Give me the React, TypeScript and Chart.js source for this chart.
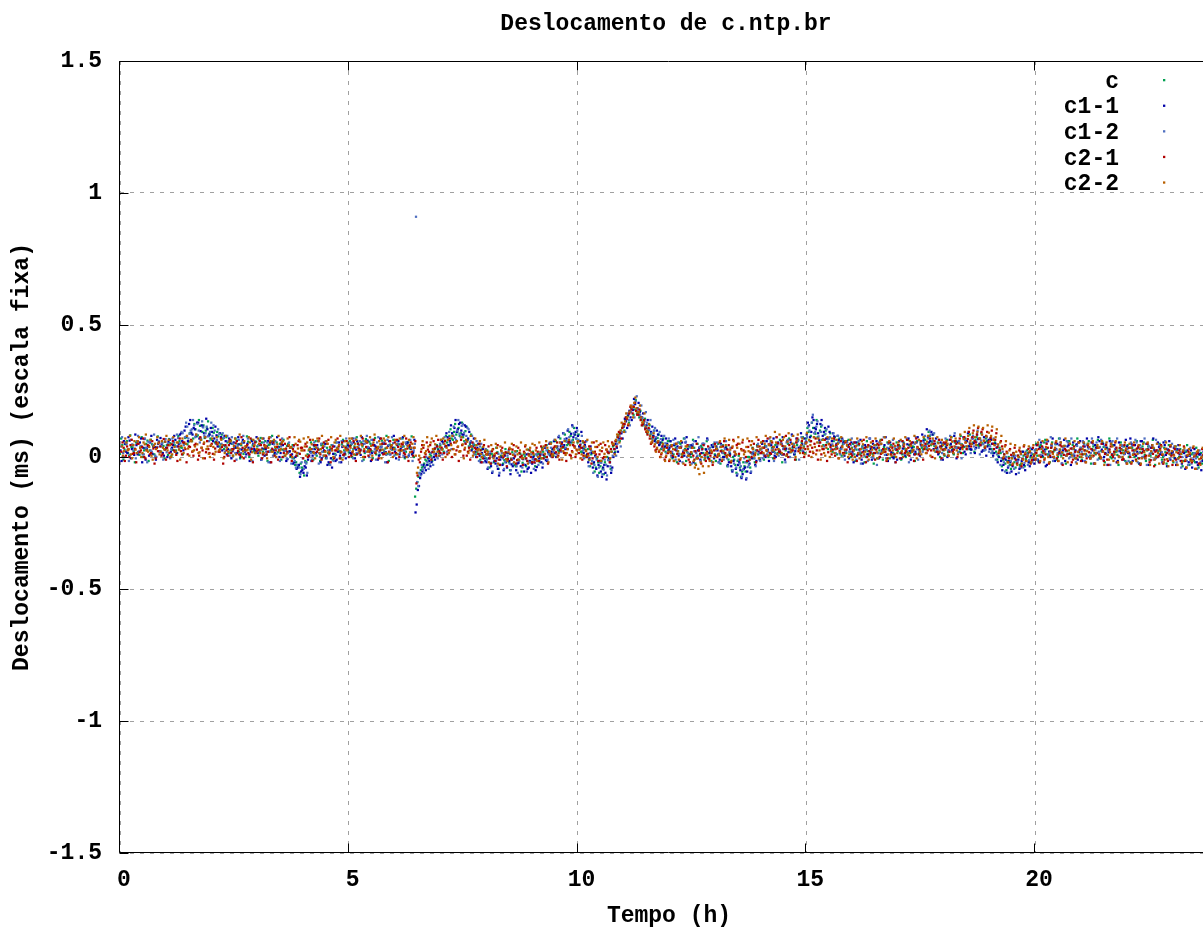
import React, { useEffect, useRef } from "react";
import { Chart, registerables } from "chart.js";

Chart.register(...registerables);

const chartTitle = "Deslocamento de c.ntp.br";
const xAxisTitle = "Tempo (h)";
const yAxisTitle = "Deslocamento (ms) (escala fixa)";
const xTickValues = [0, 5, 10, 15, 20];
const yTickValues = [-1.5, -1, -0.5, 0, 0.5, 1, 1.5];
const seriesLabels = ["c", "c1-1", "c1-2", "c2-1", "c2-2"];
const seriesColors = ["#00a050", "#0000a8", "#4f6fc0", "#b00000", "#b86000"];
// polling: two samples per 0.05 h slot per server (slot start and slot middle), each server with its own phase
const sampleStepHours = 0.05;
const midSlotHours = 0.025;
const seriesPhaseHours = [0, 0.01, 0.02, 0.03, 0.04];

// offsets in microseconds, 20 samples per line = one hour per line (samples at slot start)
const offsetC_us = [
  12, 45, 28, 60, 5, 38, 22, 55, 18, 40, 0, 33, 62, 25, 48, 10, 36, 58, 20, 42,
  30, 8, 52, 27, 44, 15, 60, 35, 50, 75, 58, 90, 70, 105, 82, 118, 95, 72, 110, 88,
  65, 92, 58, 78, 48, 70, 40, 55, 25, 50, 35, 62, 20, 45, 12, 38, 58, 28, 44, 15,
  40, 22, 55, 30, 8, 46, 25, 60, 33, 18, 50, 28, 5, 42, 20, 35, -5, -20, -35, -25,
  -45, -15, 10, 35, 18, 40, 5, 28, 45, 20, -5, 15, 30, -10, 12, 35, 22, 48, 25, 40,
  18, 45, 30, 8, 52, 25, 40, 15, 35, 58, 22, 44, 10, 38, 26, 50, 32, 12, 47, 28,
  35, 12, 48, 25, 40, 20, 55, 30, 15, -150, -95, -62, -40, -25, -15, -5, 5, 20, 10, 30,
  45, 30, 62, 55, 80, 70, 95, 85, 110, 90, 75, 98, 65, 48, 30, 45, 20, 12, 28, 5,
  -5, 10, -25, 5, -15, 18, -30, 0, -12, 15, -20, -8, 8, -35, -10, 12, -22, 2, -15, 10,
  -18, 5, -10, 12, -5, 20, 0, 25, 8, 30, 15, 35, 22, 45, 38, 60, 50, 80, 65, 85,
  55, 40, 20, 30, 5, -10, 10, -25, -40, -20, -35, -45, -20, 0, -10, 20, 45, 60, 85, 100,
  125, 140, 155, 170, 188, 180, 165, 150, 140, 125, 110, 100, 88, 80, 65, 72, 48, 55, 35, 45,
  28, 45, 10, 35, 22, 50, 5, 30, 18, 40, 12, 35, -5, 25, 42, 15, 30, 0, 22, 38,
  10, 32, 5, 25, 15, 38, -10, -20, 0, -30, -15, -40, -55, -35, -20, 0, 15, -5, 25, 10,
  30, 15, 42, 22, 8, 35, 20, 48, 28, 12, 40, 25, 50, 18, 35, 10, 45, 30, 55, 40,
  70, 95, 80, 110, 88, 75, 100, 65, 85, 55, 70, 45, 60, 38, 55, 30, 48, 25, 42, 20,
  35, 10, 28, 45, 15, 32, 0, 22, 40, 12, 30, -5, 25, 18, 38, 8, 28, 45, 15, 30,
  22, 40, 10, 32, 18, 45, 25, 38, 12, 30, 48, 28, 65, 50, 80, 58, 42, 30, 15, 35,
  25, 40, 18, 45, 30, 55, 35, 20, 48, 38, 60, 42, 28, 55, 65, 45, 70, 52, 38, 60,
  45, 30, 50, 20, 5, 15, -10, -25, -15, -30, -5, -20, -12, 0, -25, 5, -8, 15, -2, 10,
  25, 5, 40, 18, 55, 30, 10, 35, 20, 48, 0, 28, 15, 42, 22, 60, 8, 30, 45, 18,
  35, 10, 25, 50, 5, 30, 15, 42, -5, 22, 38, 12, 28, 0, 45, 20, 8, 32, 15, 40,
  20, 0, 35, 12, 28, -5, 18, 40, 8, 25, -10, 15, 32, 5, 22, 45, 0, 18, 28, 10,
  15, -5, 25, 0, 12, -15, 20, 5, -10, 15, -20, 0, 10, -25, 5, -10, 8, -30, -5, -15,
  -10,
];

const offsetC11_us = [
  25, 0, 50, 15, 62, 30, 8, 45, 20, 70, 35, -10, 40, 55, 12, 38, 65, 22, 48, 5,
  35, 58, 20, 45, 65, 40, 85, 60, 100, 78, 125, 92, 110, 80, 130, 98, 115, 75, 105, 85,
  95, 70, 82, 55, 75, 45, 60, 30, 52, 22, 40, 15, 48, 28, 55, 10, 35, 20, 50, 25,
  15, 48, 32, 5, 40, 20, 58, 25, 0, 38, 15, 45, 28, -8, 22, 10, -20, -45, -30, -55,
  -60, -40, -10, 20, 5, 30, 45, 15, -5, 25, 0, -20, -5, 12, -15, 20, 5, 38, 15, 30,
  40, 12, 55, 28, 35, 8, 48, 20, 62, 30, 15, 45, 25, 5, 38, 52, 18, 42, 10, 35,
  20, 45, 10, 38, 25, 50, 5, 32, 18, -210, -125, -80, -55, -40, -30, -15, -20, 0, 12, 25,
  35, 55, 40, 75, 60, 90, 110, 95, 125, 100, 85, 115, 70, 55, 40, 20, 35, 5, 15, -5,
  -20, -5, -35, 0, -25, -45, -10, -30, 5, -40, -15, -28, -5, -50, -22, -35, -8, -30, -45, -15,
  -25, -10, -38, -5, -20, 8, -12, 18, 5, 30, 15, 40, 28, 55, 45, 70, 60, 88, 75, 95,
  80, 60, 35, 45, 10, -5, 15, -20, -45, -30, -55, -40, -60, -35, -20, -40, 15, 35, 70, 90,
  115, 135, 160, 150, 178, 200, 185, 170, 150, 135, 120, 105, 95, 80, 70, 85, 55, 65, 40, 50,
  35, 15, 45, 25, 5, 38, 20, 55, 30, 10, 42, 22, 0, 35, 15, 48, 28, -5, 20, 38,
  5, 25, -10, 18, 0, 30, -20, -35, -15, -45, -30, -50, -65, -40, -55, -25, -5, 10, -15, 20,
  15, 35, 0, 28, 45, 20, 5, 38, 25, 50, 10, 32, 18, 55, 40, 22, 60, 35, 48, 70,
  85, 120, 95, 140, 105, 90, 125, 80, 110, 70, 95, 60, 78, 50, 65, 35, 55, 25, 45, 30,
  20, 40, 5, 28, -10, 22, 38, 10, 30, 50, 15, 35, 0, 25, 45, 8, 32, 18, -5, 28,
  40, 15, 32, 5, 48, 22, 35, 10, 55, 30, 45, 62, 40, 75, 60, 85, 50, 35, 20, 42,
  10, 35, 25, 50, 15, 38, 55, 30, 45, 20, 60, 40, 28, 52, 35, 68, 45, 25, 55, 40,
  30, 50, 15, 35, 0, -15, -30, -10, -40, -20, -35, -5, -25, -45, -15, -30, 0, -20, 5, -10,
  15, -10, 35, 5, 28, -30, 20, 45, 0, 30, 10, 55, 25, -15, 40, 12, 32, 5, 48, 20,
  30, 55, 10, 38, -5, 25, 45, 15, 60, 28, 0, 35, 18, 50, 8, 30, -15, 22, 42, 12,
  40, 15, 50, 25, 5, 35, 60, 20, -5, 30, 12, 45, 25, 0, 38, 18, 55, 8, 28, -10,
  20, -5, 30, 10, -25, 15, 0, -20, 25, -10, 5, -30, 10, -15, -40, 0, -20, 8, -35, -10,
  -25,
];

const offsetC12_us = [
  40, 15, 55, 28, 8, 48, 32, 60, 20, 42, 10, 35, 58, 25, 45, 5, 38, 20, 52, 30,
  18, 45, 30, 55, 40, 72, 52, 90, 75, 115, 88, 105, 120, 85, 100, 70, 112, 90, 78, 95,
  80, 100, 65, 88, 50, 72, 38, 60, 28, 50, 15, 42, 30, 55, 22, 40, 8, 35, 48, 18,
  45, 25, 10, 38, 55, 20, 32, 48, 12, 28, 40, 0, 25, 15, 35, -5, -15, -30, -40, -20,
  -45, -25, 0, 15, 30, 10, 35, 0, 20, 40, -5, 10, 25, -15, 8, 30, 15, 42, 20, 35,
  25, 50, 32, 15, 45, 28, 60, 20, 38, 10, 48, 30, 55, 18, 40, 25, 8, 45, 30, 52,
  28, 50, 15, 40, 22, 45, 10, 35, 25, 910, -110, -70, -48, -35, -20, -25, -5, 10, 0, 20,
  30, 50, 38, 68, 55, 82, 72, 100, 88, 118, 92, 80, 105, 60, 50, 35, 25, 40, 10, 0,
  -10, 8, -22, 0, -15, 12, -30, -5, -18, 5, -25, -10, 10, -35, -15, 0, -28, -8, 12, -20,
  -8, -22, 5, -15, 10, -5, 25, 10, 35, 20, 40, 30, 55, 42, 68, 58, 75, 62, 90, 70,
  65, 48, 25, 38, 0, 15, -15, -30, -10, -40, -22, -48, -30, -12, -35, 5, 30, 50, 78, 95,
  120, 150, 140, 170, 195, 210, 180, 160, 148, 120, 130, 105, 90, 100, 75, 60, 68, 45, 52, 38,
  42, 20, 50, 32, 12, 40, 25, 58, 15, 35, 48, 22, 5, 38, 28, 50, 10, 30, 18, 45,
  25, 8, 38, 15, 30, -5, 20, -15, -25, -40, -10, -35, -48, -20, -38, -10, 10, -5, 25, 15,
  28, 10, 40, 20, 52, 30, 15, 45, 25, 8, 38, 55, 30, 18, 48, 32, 62, 40, 25, 50,
  75, 100, 130, 90, 115, 78, 95, 68, 88, 58, 75, 48, 65, 40, 55, 30, 50, 22, 38, 45,
  12, 30, 45, 18, 35, 5, 28, 42, 20, -5, 32, 15, 48, 22, 8, 35, 25, 40, 10, 28,
  35, 18, 45, 25, 8, 38, 20, 50, 30, 15, 42, 55, 48, 70, 85, 62, 45, 28, 38, 15,
  30, 48, 22, 40, 60, 35, 18, 50, 42, 65, 30, 55, 72, 40, 58, 35, 62, 48, 28, 52,
  40, 22, 45, 10, 25, -5, -20, 0, -35, -15, -28, 5, -18, -38, -8, -22, 10, -12, 15, 0,
  30, 50, 8, 35, 20, 62, 15, 40, -5, 28, 45, 12, 35, 22, 55, 0, 30, 18, 42, 25,
  20, 45, 5, 32, 15, 50, 28, -10, 38, 20, 42, 8, 30, 55, 12, 35, 22, 0, 40, 18,
  30, 8, 42, 20, 55, 15, 35, 0, 28, 48, 12, 38, -8, 25, 45, 18, 5, 32, 20, 40,
  10, 28, -8, 18, 0, 25, -15, 8, -25, 12, -5, 20, -18, 5, -10, 15, -30, 0, -12, -20,
  -5,
];

const offsetC21_us = [
  20, 35, 5, 28, 45, 12, 30, 50, 18, 38, 0, 25, 42, 15, 32, -5, 22, 40, 10, 28,
  35, 15, 48, 25, 8, 40, 22, 55, 30, 10, 38, 20, 45, 28, 5, 35, 50, 18, 30, 42,
  12, 32, 48, 20, 38, 0, 25, 45, 15, 30, 52, 22, 8, 35, 28, 45, 10, 30, 40, 18,
  28, 45, 10, 35, 20, 55, 30, 5, 38, 25, 48, 15, 32, 42, 8, 30, 20, 45, 12, 35,
  25, 40, 5, 30, 18, 45, 28, 10, 35, 22, 50, 15, 32, -5, 25, 40, 20, 8, 35, 28,
  42, 18, 35, 10, 30, 48, 22, 38, 5, 28, 45, 15, 32, 25, 50, 12, 35, 20, 40, 30,
  15, 38, 25, 48, 10, 32, 45, 20, 35, -100, -10, 20, 35, 10, 28, 45, 18, 32, 40, 22,
  35, 15, 42, 25, 50, 30, 10, 38, 22, 45, 28, 5, 35, 40, 18, 30, 12, 25, -5, 20,
  10, -5, 22, 5, 15, -10, 25, 0, 18, -8, 12, 28, 2, -12, 15, 5, 20, -5, 10, 0,
  15, -8, 20, 5, 28, 10, 0, 22, 12, 35, 18, 5, 25, 38, 15, 30, 8, 22, 40, 28,
  15, 35, 5, 25, 12, 30, -5, 20, 38, 10, 22, 0, 28, 15, 30, 45, 60, 75, 90, 110,
  125, 145, 165, 180, 190, 175, 160, 140, 125, 105, 85, 70, 55, 40, 30, 20, 10, 25, 0, 15,
  20, 5, 28, 12, 35, 0, 15, 25, -10, 18, 5, 22, -5, 12, 30, 8, 20, -8, 15, 25,
  30, 10, 22, 40, 15, 28, 5, 35, 20, 45, 12, 30, 25, 0, 38, 18, 32, 8, 25, 40,
  18, 35, 25, 48, 12, 38, 28, 52, 20, 42, 30, 10, 45, 25, 38, 55, 22, 35, 15, 30,
  40, 20, 35, 50, 25, 42, 10, 30, 45, 18, 38, 28, 5, 32, 22, 40, 15, 28, 38, 12,
  25, 40, 10, 30, 18, 35, 0, 22, 38, 15, 28, 45, 12, 30, 20, -5, 25, 35, 10, 28,
  32, 15, 40, 22, 35, 48, 25, 10, 38, 28, 45, 30, 15, 42, 25, 50, 35, 18, 40, 28,
  30, 45, 20, 38, 28, 50, 35, 15, 42, 55, 68, 50, 75, 60, 85, 70, 95, 62, 80, 55,
  72, 50, 65, 38, 25, 40, 10, 20, -5, 8, 15, -10, 5, 20, -8, 10, 0, 18, -12, 5,
  15, 30, 0, 22, 10, 35, 5, 18, 28, -5, 15, 40, 8, 25, 12, 32, -10, 20, 5, 28,
  10, 25, -5, 18, 30, 5, 15, 35, 0, 22, 12, -10, 28, 8, 20, 35, 2, 15, -8, 25,
  18, 0, 25, 10, 32, -5, 15, 22, 5, 28, -12, 12, 20, 0, 30, 8, -10, 15, 25, 5,
  8, -10, 15, 0, 20, -15, 5, 12, -20, 2, 10, -25, -5, 8, -18, 0, -30, -8, 5, -15,
  -20,
];

const offsetC22_us = [
  40, 22, 55, 30, 10, 45, 28, 60, 35, 15, 48, 25, 38, 5, 42, 30, 52, 20, 35, 58,
  25, 45, 10, 38, 55, 28, 42, 15, 50, 32, 60, 22, 40, 48, 18, 35, 55, 30, 12, 45,
  38, 20, 52, 30, 45, 15, 35, 58, 25, 42, 10, 32, 50, 22, 40, 28, 55, 18, 45, 30,
  50, 28, 15, 42, 35, 60, 20, 38, 48, 25, 55, 30, 12, 45, 38, 22, 50, 32, 58, 25,
  40, 55, 28, 48, 15, 35, 60, 30, 42, 20, 50, 38, 25, 55, 32, 45, 18, 40, 28, 52,
  35, 22, 50, 38, 15, 45, 30, 58, 25, 42, 55, 20, 38, 48, 28, 62, 35, 18, 45, 30,
  48, 25, 40, 55, 30, 42, 18, 50, 35, -60, 5, 30, 45, 22, 40, 55, 30, 48, 20, 38,
  28, 50, 35, 15, 45, 30, 55, 40, 22, 48, 35, 58, 25, 40, 18, 45, 30, 12, 38, 25,
  20, 5, 28, 12, 35, 0, 22, 15, -8, 18, 30, 8, 22, 10, 25, -5, 15, 28, 5, 18,
  10, 25, 0, 18, 30, 12, 35, 20, 5, 28, 40, 15, 32, 22, 8, 30, 45, 18, 35, 25,
  28, 10, 40, 22, 5, 32, 18, 38, 0, 25, 35, 12, 28, 40, 20, 50, 65, 82, 100, 118,
  135, 150, 172, 190, 205, 185, 170, 150, 132, 115, 95, 80, 62, 48, 35, 25, 15, 30, 5, 20,
  15, 30, 0, 22, 35, 10, 25, 40, 5, 18, -15, -30, -45, -20, -35, -5, 10, -15, 20, 0,
  30, 12, 38, 22, 45, 8, 28, 40, 18, 35, 50, 25, 10, 38, 22, 45, 30, 15, 40, 28,
  35, 50, 25, 45, 60, 38, 55, 30, 48, 65, 40, 58, 32, 50, 42, 62, 28, 45, 35, 52,
  30, 45, 20, 38, 55, 25, 40, 15, 35, 48, 22, 42, 30, 50, 18, 38, 28, 45, 10, 32,
  25, 42, 15, 30, 48, 20, 38, 8, 28, 45, 18, 35, 50, 22, 30, 10, 38, 25, 42, 15,
  35, 22, 48, 30, 15, 42, 28, 55, 35, 20, 45, 38, 58, 30, 48, 25, 40, 52, 32, 45,
  28, 50, 35, 58, 40, 25, 52, 45, 68, 55, 80, 62, 90, 75, 95, 70, 85, 60, 78, 92,
  80, 65, 75, 48, 55, 30, 40, 15, 25, -5, 10, 20, 0, 12, -10, 15, 5, 22, -2, 10,
  25, 5, 30, 15, 38, 0, 22, 12, 35, 8, 28, 18, 42, 5, 25, 15, 32, -5, 20, 10,
  30, 12, 22, 38, 5, 25, 15, 35, -5, 20, 30, 8, 18, 40, 10, 25, 0, 28, 15, 32,
  20, 35, 8, 25, 12, 30, -5, 18, 28, 5, 22, 35, 0, 15, 25, 10, 30, -8, 12, 22,
  5, 18, -5, 12, 25, -10, 8, 15, -15, 5, 20, -8, 0, 12, -20, 5, -5, 10, -12, 0,
  -10,
];

// offsets in microseconds, samples at slot middle (20 per line = one hour)
const offsetCMid_us = [
  70, -10, 48, 15, 82, 35, -20, 58, 8, 75, 25, 50, -15, 65, 40, 0, 78, 20, 55, -5,
  45, 68, 5, 55, 25, 80, 38, 10, 72, 48, 90, 60, 125, 78, 140, 65, 120, 100, 135, 70,
  110, 55, 95, 40, 85, 30, 75, 15, 62, 5, 70, 48, -5, 55, 30, 78, 0, 65, 22, 58,
  5, 72, 20, 60, -15, 48, 80, 10, 55, 38, -10, 65, 25, 50, 0, 45, -30, 5, -60, -40,
  -70, -20, 25, 55, -10, 60, 30, -15, 50, 5, 35, -25, 45, 0, 55, 20, -5, 65, 10, 50,
  60, 0, 40, 75, 15, 55, -10, 68, 28, 50, -5, 72, 35, 8, 62, 20, 80, -15, 45, 65,
  10, 62, 25, 70, -5, 55, 35, 78, 0, -120, -75, -50, -35, -10, -30, 10, -15, 30, 45, 15,
  65, 20, 80, 45, 105, 65, 125, 95, 80, 130, 60, 115, 40, 85, 50, 10, 48, -10, 35, 20,
  25, -40, 12, -20, 35, -45, 5, -25, 30, -5, -50, 18, -30, 22, -15, -55, 10, -35, 28, -20,
  20, -35, 10, -20, 35, 0, 45, 15, 55, 5, 60, 25, 70, 35, 85, 45, 95, 55, 110, 70,
  85, 20, 55, 0, 30, -35, 20, -55, -5, -60, -15, -65, -30, 15, -45, 40, 20, 75, 60, 110,
  100, 150, 130, 185, 160, 215, 165, 175, 120, 145, 90, 120, 70, 100, 55, 85, 30, 70, 20, 60,
  60, -5, 45, -20, 55, 10, 70, -15, 40, 0, 65, -25, 50, 5, 35, -10, 60, 15, -15, 48,
  -15, 50, -25, 45, 10, -35, 15, -50, -10, -60, 5, -75, -20, -55, 0, -40, 35, -20, 45, -5,
  55, -10, 40, 0, 60, -5, 45, 15, 65, -20, 35, 5, 70, 20, 50, -10, 65, 25, 75, 15,
  110, 60, 130, 75, 140, 55, 115, 45, 100, 30, 90, 20, 75, 10, 70, 5, 60, 15, 65, 0,
  50, -15, 55, 10, 40, -20, 60, 5, 35, -25, 45, 15, 65, -10, 30, 55, -5, 40, 0, 55,
  45, -10, 55, 0, 65, 15, 40, -15, 60, 20, 35, 70, 30, 95, 45, 85, 20, 55, 0, 50,
  5, 65, 20, 75, 10, 60, 35, 80, 15, 70, 30, 85, 50, 20, 75, 40, 90, 25, 70, 45,
  70, 15, 55, -10, 35, -35, 10, -50, 0, -45, 15, -40, 5, -30, 20, -35, 25, -20, 30, -10,
  50, -15, 45, 0, 65, 10, -20, 55, 25, -10, 70, 5, 40, -25, 60, 15, 45, -5, 70, 0,
  -10, 50, 5, 60, -25, 40, 10, 65, 0, 55, -20, 35, 70, -5, 45, 20, -30, 55, 25, -15,
  45, -20, 35, 0, 60, -25, 30, 55, -15, 40, 5, 65, -30, 25, 50, -10, 35, -25, 45, 10,
  -20, 40, -5, 30, -35, 20, 45, -30, 10, -15, 35, -40, 15, -10, 25, -45, 5, 20, -35, 0,
  -30,
];

const offsetC11Mid_us = [
  -15, 60, 20, 75, -5, 45, 85, 10, 55, -20, 68, 30, 5, 80, 40, -10, 50, 72, 15, 58,
  0, 65, 35, 80, 15, 50, 90, 25, 115, 60, 140, 85, 105, 130, 70, 120, 90, 145, 80, 110,
  60, 115, 40, 90, 25, 80, 10, 70, -5, 55, 35, 75, 0, 65, 20, 50, -15, 60, 30, 75,
  45, -10, 70, 30, 60, -20, 50, 15, 75, 0, 55, 25, -15, 45, 5, -25, 0, -40, -75, -50,
  -35, -70, 5, -15, 45, 15, 60, -20, 35, 50, -30, 25, -40, 40, -10, 55, -20, 60, -5, 45,
  15, 70, -5, 60, 20, 75, 0, 55, 35, -15, 65, 40, -10, 70, 15, 50, -20, 60, 30, 80,
  -5, 60, 30, 75, 0, 55, 40, 10, 65, -180, -110, -65, -30, -50, -5, -35, 20, -10, 40, 5,
  60, 15, 90, 45, 120, 80, 140, 105, 130, 85, 120, 60, 95, 25, 70, 0, 50, -20, 30, -15,
  -45, 10, -60, -15, -5, -70, 0, -50, -20, 15, -65, -35, 5, -25, -70, -5, -55, 10, -40, -60,
  0, -50, -15, 10, -40, 35, -15, 50, 20, 60, 0, 75, 40, 90, 30, 100, 55, 120, 85, 110,
  40, 95, 15, 60, -20, 40, -40, 5, -70, -15, -75, -30, -85, -5, -60, 0, 50, 20, 90, 70,
  145, 110, 175, 140, 220, 175, 205, 150, 165, 110, 140, 80, 115, 60, 100, 45, 80, 30, 70, 25,
  60, 0, 70, 40, -15, 55, 5, 75, 10, 45, -20, 60, 25, -10, 50, 5, 70, 15, 45, -5,
  40, -20, 50, 0, 35, -30, 10, -55, 5, -70, -20, -80, -45, -85, -15, -60, 15, -30, 40, -10,
  50, 5, 60, -15, 45, 70, 0, 55, 15, 75, -10, 60, 30, 85, 10, 70, 35, 90, 20, 55,
  130, 75, 150, 110, 125, 65, 140, 95, 70, 115, 45, 90, 30, 80, 15, 70, 5, 60, -5, 55,
  -20, 55, 15, 65, -25, 45, 10, 70, -10, 35, 60, -5, 50, 20, 75, -15, 55, 0, 40, -10,
  60, -5, 50, 25, 70, -10, 55, 20, 75, 5, 85, 40, 105, 55, 95, 30, 70, 10, 55, -10,
  50, 0, 65, 25, 80, -5, 60, 35, 75, 10, 90, 30, 70, 15, 85, 50, 20, 75, 5, 65,
  65, 5, 50, -20, 25, -50, -5, -60, -15, -55, 5, -65, -10, -40, 20, -50, 10, -35, 30, -25,
  45, -20, 55, 15, -35, 60, 0, 70, -15, 50, 20, -25, 65, 5, 45, -30, 55, 25, -10, 60,
  -15, 40, 70, 0, 55, -25, 35, 75, -5, 50, 15, -30, 60, 10, 45, -20, 55, 30, -10, 65,
  15, 70, -15, 45, 20, -25, 60, 0, 50, -30, 35, 70, -5, 55, 10, -20, 45, -35, 60, 15,
  35, -30, 45, -15, 20, -45, 25, 5, -40, 30, -20, 10, -50, 20, -25, -5, -55, 15, -30, -45,
  -20,
];

const offsetC12Mid_us = [
  75, 0, 50, -15, 65, 25, -5, 80, 35, 10, 70, -20, 55, 20, 85, 0, 60, 40, -10, 68,
  50, -5, 70, 20, 85, 30, 95, 45, 130, 70, 100, 140, 75, 125, 55, 135, 80, 115, 60, 130,
  120, 50, 105, 35, 90, 20, 80, 5, 75, 40, -10, 65, 15, 80, 0, 70, 30, -15, 60, 20,
  65, -10, 55, 20, -20, 75, 5, 60, 35, -15, 70, 25, -5, 55, -25, 40, -40, 15, -65, -5,
  -20, -60, 30, -10, 55, 35, -25, 50, 5, 60, 25, -30, 45, 0, 55, -20, 60, 5, 70, 0,
  55, -5, 70, 15, 60, -15, 50, 80, 0, 65, 20, -10, 75, 35, 55, -20, 65, 10, 75, 5,
  60, -10, 70, 5, 55, 0, 65, -15, 50, -95, -60, -30, -60, 0, -45, 15, -30, 35, -5, 50,
  10, 75, 20, 95, 30, 115, 65, 140, 75, 125, 55, 110, 40, 80, 10, 60, -15, 50, -20, 30,
  -40, 20, -55, 5, -35, -60, 15, -45, -10, 25, -50, -25, 20, -60, 0, -40, 15, -55, -20, 10,
  -45, 10, -30, 20, -25, 40, -10, 55, 0, 65, 10, 80, 20, 90, 35, 105, 50, 115, 40, 100,
  30, 80, -5, 60, -35, 25, -60, 0, -75, -20, -65, -10, -70, 20, -50, 30, 5, 65, 40, 125,
  95, 165, 120, 185, 150, 230, 160, 195, 130, 170, 105, 140, 70, 110, 55, 95, 35, 80, 15, 70,
  5, 65, -10, 55, 35, -20, 70, 0, 45, -25, 60, 15, 75, -15, 50, 0, 65, 35, -20, 55,
  55, -20, 45, -10, 60, -35, 35, -50, 20, -65, -25, -75, -5, -80, -30, -55, 20, -35, 50, -15,
  -5, 60, 10, 70, 25, -15, 75, 5, 55, 30, -20, 65, 0, 80, 15, 55, -10, 75, 35, 60,
  115, 60, 160, 95, 135, 55, 120, 40, 105, 70, 30, 90, 15, 80, 10, 65, -10, 55, 20, 70,
  55, -10, 60, -25, 45, 25, -15, 70, 0, 45, -30, 55, 15, 75, -5, 50, 10, 65, -20, 40,
  -5, 60, 10, 70, -20, 50, 25, 75, -10, 55, 20, 80, 35, 100, 50, 90, 20, 65, -10, 50,
  70, 5, 80, 20, 90, 35, 60, -5, 75, 40, 95, 15, 80, 30, 100, 10, 85, 25, 75, 20,
  15, 70, -10, 45, -30, 20, -55, 15, -60, 5, -45, -15, -60, 10, -40, 20, -30, 35, -20, 25,
  -10, 65, 30, -20, 55, 5, 75, -15, 50, 15, 70, -25, 40, 60, -5, 70, 10, -20, 55, 35,
  60, -15, 45, 0, 70, -25, 55, 20, 65, -10, 50, 25, -30, 60, -5, 70, 0, 45, 10, -20,
  -15, 55, 10, 65, -20, 45, 0, 70, -30, 40, 20, -10, 65, 0, 35, -25, 60, 15, -5, 50,
  40, -20, 30, -40, 25, 5, -30, 35, -15, 15, -45, 25, 5, -35, 20, -20, 10, -50, 15, -25,
  -35,
];

const offsetC21Mid_us = [
  55, -15, 40, 0, 65, 15, -20, 50, 25, 70, -5, 45, 10, 60, -25, 35, 55, 5, 68, -10,
  45, 0, 60, 20, -15, 70, 10, 55, -20, 40, 65, 5, 50, -10, 75, 25, -5, 60, 15, 50,
  -10, 55, 20, 70, -25, 45, 5, 65, 30, -15, 60, 10, 75, -5, 40, 15, 70, -20, 55, 25,
  60, -5, 45, 10, 70, -20, 55, 25, -10, 65, 0, 50, 20, 75, -15, 45, 5, 60, 35, -5,
  50, 0, 65, -15, 45, 20, 70, -10, 55, 5, 65, -20, 40, 25, 70, -5, 55, 10, 60, 0,
  5, 60, -15, 50, 25, 70, 0, 55, 20, -10, 65, 35, -5, 70, 10, 50, -20, 60, 15, 55,
  65, 0, 50, 15, 70, -15, 55, 5, 60, -70, -20, 45, 0, 55, 20, -10, 60, 5, 65, 15,
  -10, 60, 10, 70, 0, 55, 25, -15, 65, 5, 50, 20, -10, 55, 35, 0, 50, -20, 45, 10,
  40, -25, 30, -15, 45, -30, 35, 10, -35, 30, -10, 45, -25, 35, 0, -30, 40, -15, 25, -20,
  -20, 35, -15, 40, -5, 45, -25, 50, 0, 40, 55, -10, 50, 15, -15, 55, 5, 45, 0, 60,
  45, -10, 55, 0, 40, -25, 55, 10, -15, 50, -5, 45, 20, -20, 55, 30, 40, 95, 70, 125,
  150, 120, 190, 165, 205, 160, 180, 120, 140, 95, 110, 50, 75, 25, 55, 0, 40, -10, 35, -15,
  40, -15, 50, -25, 35, 15, -30, 45, -20, 35, -10, 50, 25, -25, 45, -15, 40, 5, -30, 50,
  0, 55, -15, 60, 5, 45, -20, 65, 10, 50, -10, 55, 20, -15, 60, 0, 50, -20, 65, 15,
  60, 5, 70, 15, 55, -5, 75, 20, 60, 10, 80, 0, 65, 25, -10, 70, 30, 60, 0, 55,
  5, 60, 15, 70, -10, 55, 30, 65, -15, 50, 10, 70, 45, -5, 60, 15, 55, -20, 50, 5,
  55, -15, 50, 5, 65, -20, 45, 15, 60, -10, 50, 0, 65, 20, -15, 55, 10, 50, -20, 45,
  -5, 60, 15, 65, 5, 55, -15, 70, 10, 60, -10, 50, 25, 70, 0, 60, 20, 65, -5, 55,
  55, 5, 65, 20, 60, 0, 70, 35, 75, 30, 95, 40, 100, 55, 110, 45, 105, 35, 95, 60,
  100, 30, 90, 15, 60, -5, 45, -20, 30, -30, 35, -25, 25, -35, 40, -15, 30, -25, 35, -10,
  45, -20, 40, -10, 50, -25, 35, 0, 55, -15, 45, -30, 30, 10, 50, -20, 40, -5, 55, -15,
  40, -20, 45, -5, 55, -25, 35, 10, 50, -15, 45, -30, 40, 0, 55, -20, 35, -10, 45, -25,
  35, -25, 45, -10, 40, -30, 30, 0, 50, -20, 35, -35, 25, 5, 45, -25, 30, -15, 40, -30,
  30, -30, 25, -15, 40, -40, 20, -10, 35, -45, 15, -25, 30, -35, 5, -50, 20, -30, 10, -40,
  -35,
];

const offsetC22Mid_us = [
  5, 70, 25, 80, -5, 60, 15, 75, 0, 55, 85, 20, 65, -10, 50, 75, 10, 60, 30, 80,
  65, 0, 75, 20, 55, -10, 70, 35, 80, 5, 60, 25, 85, 15, 65, -5, 75, 40, 0, 70,
  10, 75, 25, 65, -5, 80, 20, 60, 5, 70, 35, 85, 0, 60, 25, 75, -10, 65, 15, 70,
  15, 70, 40, -5, 75, 20, 65, 0, 80, 30, 60, 5, 70, 35, 0, 75, 15, 65, 25, 70,
  5, 75, 30, 65, -5, 70, 15, 80, 5, 60, 20, 75, 0, 65, 30, 80, -10, 60, 25, 70,
  70, 10, 65, 25, 80, 0, 60, 20, 75, 5, 85, 30, 60, -5, 70, 15, 75, 35, 0, 65,
  10, 70, 25, 80, 0, 65, 35, 75, 5, -40, -5, 60, 15, 75, 0, 70, 20, 80, 5, 65,
  70, 0, 65, 25, 80, 10, 60, 20, 75, -5, 65, 15, 80, 5, 70, 25, 60, 0, 65, 10,
  -20, 45, -5, 50, -25, 40, 5, 55, -15, 35, 50, -20, 40, -10, 55, -5, 45, -25, 35, 50,
  45, -15, 55, -5, 40, 60, -20, 50, 10, 65, 0, 55, -10, 60, 15, 65, -5, 55, 10, 60,
  -5, 60, 5, 65, -10, 55, 15, 60, 45, -15, 55, 0, 60, -5, 50, 10, 85, 55, 130, 95,
  165, 125, 195, 150, 225, 170, 195, 130, 165, 100, 125, 55, 90, 20, 60, 0, 50, -15, 45, -10,
  45, -15, 50, -10, 60, -25, 40, 5, -30, 35, -40, -5, -65, 0, -60, 15, -35, 25, -20, 40,
  5, 60, -10, 70, 0, 65, -15, 60, 10, 75, -5, 65, 20, 70, -10, 60, 5, 75, -5, 55,
  15, 80, 5, 75, 25, 95, 10, 85, 15, 75, 5, 90, 20, 80, 0, 85, 15, 70, 10, 90,
  65, 0, 75, 10, 70, -10, 65, 5, 75, 0, 70, 15, 65, -5, 75, 10, 60, 0, 65, -10,
  0, 70, -5, 60, 10, 75, -10, 55, 5, 70, -5, 60, 15, 75, -10, 60, 5, 70, 0, 55,
  65, 0, 75, 10, 60, 20, 80, -5, 65, 10, 75, 15, 80, 5, 70, -5, 75, 20, 65, 10,
  60, 5, 75, 15, 70, 10, 85, 30, 95, 40, 110, 50, 120, 45, 115, 55, 110, 40, 120, 60,
  115, 45, 105, 20, 80, 0, 60, -20, 50, -25, 45, -30, 35, -25, 45, -15, 40, -20, 45, -5,
  55, -15, 60, -5, 65, -20, 50, 0, 60, -15, 55, -5, 70, -20, 50, 5, 60, -25, 55, 0,
  55, -20, 50, -5, 60, -25, 45, 5, 60, -30, 55, -10, 50, -15, 60, -20, 45, 0, 55, -25,
  50, -20, 55, -15, 45, -25, 50, -5, 55, -30, 45, -10, 50, -25, 40, -20, 55, -35, 45, -15,
  40, -30, 45, -20, 35, -40, 30, -15, 40, -45, 25, -30, 35, -40, 20, -50, 30, -35, 15, -45,
  -40,
];

const seriesStartValuesUs = [offsetC_us, offsetC11_us, offsetC12_us, offsetC21_us, offsetC22_us];
const seriesMidValuesUs = [offsetCMid_us, offsetC11Mid_us, offsetC12Mid_us, offsetC21Mid_us, offsetC22Mid_us];

const FONT_FAMILY = "'Liberation Mono', 'DejaVu Sans Mono', monospace";
const FONT_SIZE = 23;

const frameAndKeyPlugin = {
  id: "frameAndKey",
  afterDraw(chart: any) {
    const { ctx, chartArea } = chart;
    const xs = chart.scales.x;
    const ys = chart.scales.y;
    const l = Math.round(chartArea.left) - 0.5;
    const r = Math.round(chartArea.right) - 0.5;
    const t = Math.round(chartArea.top) + 0.5;
    const b = Math.round(chartArea.bottom) - 0.5;
    ctx.save();
    ctx.strokeStyle = "#000";
    ctx.lineWidth = 1;
    ctx.setLineDash([]);
    ctx.beginPath();
    ctx.rect(l, t, r - l, b - t);
    const tick = 9;
    xTickValues.forEach((v) => {
      const px = Math.round(xs.getPixelForValue(v)) - 0.5;
      ctx.moveTo(px, b);
      ctx.lineTo(px, b - tick);
      ctx.moveTo(px, t);
      ctx.lineTo(px, t + tick);
    });
    yTickValues.forEach((v) => {
      const py = Math.round(ys.getPixelForValue(v)) + 0.5;
      ctx.moveTo(l, py);
      ctx.lineTo(l + tick, py);
      ctx.moveTo(r, py);
      ctx.lineTo(r - tick, py);
    });
    ctx.stroke();

    // key (top right, gnuplot style)
    ctx.font = `bold ${FONT_SIZE}px ${FONT_FAMILY}`;
    ctx.textAlign = "right";
    ctx.textBaseline = "middle";
    const textRight = 1119;
    const sampleX = 1164;
    const firstY = 80;
    const rowGap = 25.6;
    seriesLabels.forEach((label, i) => {
      const y = firstY + i * rowGap;
      ctx.fillStyle = "#000";
      ctx.fillText(label, textRight, y + 2);
      ctx.fillStyle = seriesColors[i];
      ctx.fillRect(sampleX - 1, y - 1, 2.3, 2.3);
    });
    ctx.restore();
  },
};

export default function App() {
  const ref = useRef<HTMLCanvasElement | null>(null);

  useEffect(() => {
    if (!ref.current) return;
    const font = { family: FONT_FAMILY, size: FONT_SIZE, weight: "bold" as const, lineHeight: 1 };
    const datasets = seriesLabels.map((label, si) => ({
      label,
      data: [
        ...seriesStartValuesUs[si].map((v, i) => ({
          x: i * sampleStepHours + seriesPhaseHours[si],
          y: v / 1000,
        })),
        ...seriesMidValuesUs[si].map((v, i) => ({
          x: i * sampleStepHours + midSlotHours + seriesPhaseHours[si],
          y: v / 1000,
        })),
      ],
      backgroundColor: seriesColors[si],
      borderColor: seriesColors[si],
      borderWidth: 0,
      pointStyle: "rect",
      pointRadius: 1.6,
      pointHoverRadius: 1.6,
      showLine: false,
      order: seriesLabels.length - si,
    }));

    const chart = new Chart(ref.current, {
      type: "scatter",
      data: { datasets },
      options: {
        animation: false,
        responsive: false,
        devicePixelRatio: 1,
        events: [],
        layout: { padding: 0 },
        plugins: {
          legend: { display: false },
          tooltip: { enabled: false },
          title: {
            display: true,
            text: chartTitle,
            color: "#000",
            font,
            padding: { top: 12.5, bottom: 25.5 },
          },
        },
        scales: {
          x: {
            type: "linear",
            min: 0,
            max: 24,
            afterFit: (s: any) => {
              s.height = 76;
            },
            afterBuildTicks: (s: any) => {
              s.ticks = xTickValues.map((value) => ({ value }));
            },
            ticks: {
              color: "#000",
              font,
              padding: 16,
              labelOffset: 4,
              maxRotation: 0,
              autoSkip: false,
              callback: (v: any) => String(v),
            },
            grid: { color: "#a0a0a0", lineWidth: 1, drawTicks: false },
            border: { display: false, dash: [4, 6] },
            title: {
              display: true,
              text: xAxisTitle,
              color: "#000",
              font,
              padding: { top: 0, bottom: 1 },
            },
          },
          y: {
            type: "linear",
            min: -1.5,
            max: 1.5,
            afterFit: (s: any) => {
              s.width = 120;
            },
            afterBuildTicks: (s: any) => {
              s.ticks = yTickValues.map((value) => ({ value }));
            },
            ticks: {
              color: "#000",
              font,
              padding: 18,
              autoSkip: false,
              callback: (v: any) => String(v),
            },
            grid: { color: "#a0a0a0", lineWidth: 1, drawTicks: false },
            border: { display: false, dash: [4, 6] },
            title: {
              display: true,
              text: yAxisTitle,
              color: "#000",
              font,
              padding: { top: 10.5, bottom: 0 },
            },
          },
          // empty right-hand strip so the plot frame ends where the reference's does
          yRight: {
            type: "linear",
            position: "right",
            min: -1.5,
            max: 1.5,
            afterFit: (s: any) => {
              s.width = 114;
            },
            ticks: { display: false },
            grid: { display: false, drawOnChartArea: false },
            border: { display: false },
          },
        },
      },
      plugins: [frameAndKeyPlugin],
    } as any);
    return () => chart.destroy();
  }, []);

  return (
    <div
      style={{
        position: "absolute",
        left: 0,
        top: 0,
        width: 1203,
        height: 929,
        overflow: "hidden",
        background: "#fff",
      }}
    >
      <canvas ref={ref} width={1332} height={929} style={{ display: "block" }} />
    </div>
  );
}
